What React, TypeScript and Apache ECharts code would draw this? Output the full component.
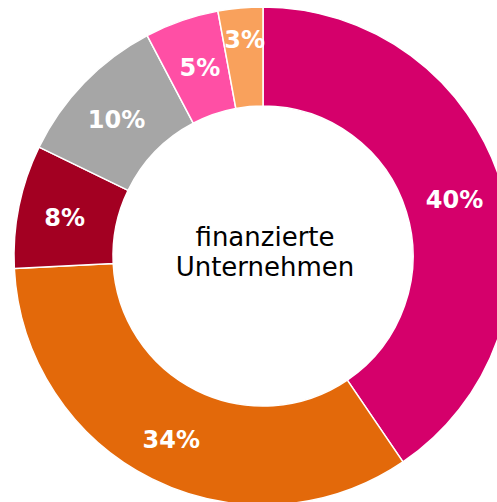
import React, { useEffect, useRef } from "react";
import * as echarts from "echarts";

const categories = ["A", "B", "C", "D", "E", "F"];
const values = [40.5, 33.7, 8.0, 10.1, 4.8, 2.9];
const labels = ["40%", "34%", "8%", "10%", "5%", "3%"];
const colors = ["#D5006B", "#E3690A", "#A30022", "#A6A6A6", "#FF4FA5", "#F9A15C"];
const labelShift: [number, number][] = [
  [-2, 4],
  [-1.5, 3],
  [0, 2],
  [-1, 4.5],
  [3, 3.5],
  [0, -14],
];
const centerLines = ["finanzierte", "Unternehmen"];

export default function App() {
  const ref = useRef<HTMLDivElement>(null);
  useEffect(() => {
    if (!ref.current) return;
    const chart = echarts.init(ref.current, undefined, { renderer: "svg" });
    chart.setOption({
      animation: false,
      backgroundColor: "#ffffff",
      graphic: [
        {
          type: "text",
          x: 265,
          y: 252,
          style: {
            text: centerLines.join("\n"),
            textAlign: "center",
            textVerticalAlign: "middle",
            fontFamily: "DejaVu Sans",
            fontSize: 26,
            lineHeight: 30,
            fill: "#000000",
          },
        },
      ],
      series: [
        {
          type: "pie",
          center: [263, 256],
          radius: [150, 249],
          startAngle: 90,
          clockwise: true,
          avoidLabelOverlap: false,
          itemStyle: { borderColor: "#ffffff", borderWidth: 1.5 },
          label: {
            show: true,
            position: "inside",
            formatter: (p: any) => labels[p.dataIndex],
            color: "#ffffff",
            fontFamily: "DejaVu Sans",
            fontWeight: "bold",
            fontSize: 24,
          },
          labelLine: { show: false },
          labelLayout: (p: any) => ({
            dx: labelShift[p.dataIndex][0],
            dy: labelShift[p.dataIndex][1],
          }),
          emphasis: { disabled: true },
          data: categories.map((c, i) => ({
            name: c,
            value: values[i],
            itemStyle: { color: colors[i] },
          })),
        },
      ],
    });
    return () => chart.dispose();
  }, []);
  return (
    <div
      ref={ref}
      style={{ position: "fixed", left: 0, top: 0, width: 497, height: 502 }}
    />
  );
}
